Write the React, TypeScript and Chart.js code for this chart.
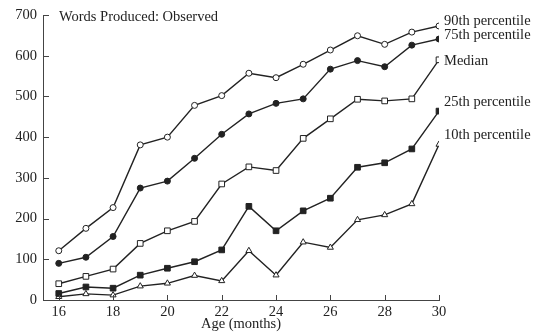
import React, { useEffect, useRef } from "react";
import { Chart, registerables } from "chart.js";

Chart.register(...registerables);

const ages = [16, 17, 18, 19, 20, 21, 22, 23, 24, 25, 26, 27, 28, 29, 30];
const p90 = [121, 176, 227, 381, 400, 478, 502, 557, 546, 579, 614, 649, 628, 658, 673];
const p75 = [90, 105, 156, 275, 292, 348, 407, 457, 483, 494, 567, 588, 573, 626, 641];
const median = [40, 58, 76, 139, 170, 193, 285, 327, 318, 397, 445, 493, 489, 494, 590];
const p25 = [16, 32, 29, 61, 78, 94, 123, 230, 170, 219, 250, 326, 337, 371, 464];
const p10 = [8, 15, 12, 34, 41, 60, 47, 121, 61, 142, 129, 197, 209, 236, 382];
const seriesNames = ["90th percentile", "75th percentile", "Median", "25th percentile", "10th percentile"];
const xTicks = [16, 18, 20, 22, 24, 26, 28, 30];
const chartTitle = "Words Produced: Observed";
const xTitle = "Age (months)";

const FONT = "'Liberation Serif', 'DejaVu Serif', serif";
const INK = "#222";
const AXIS = "#444";

export default function App() {
  const ref = useRef<HTMLCanvasElement | null>(null);
  useEffect(() => {
    document.body.style.margin = "0";
    const canvas = ref.current!;
    const mk = (vals: number[], style: any, filled: boolean, radius: number) => ({
      data: vals.map((v, i) => ({ x: ages[i], y: v })),
      borderColor: INK,
      borderWidth: 1.4,
      pointStyle: style,
      pointRadius: radius,
      pointBorderWidth: 1,
      pointBorderColor: INK,
      pointBackgroundColor: filled ? INK : "#fff",
      showLine: true,
      tension: 0,
    });
    const labelOffsets = [-5, -4, 1, -9, -9];
    const overlay = {
      id: "overlay",
      afterDraw(chart: any) {
        const { ctx, scales } = chart;
        const xs = scales.x, ys = scales.y;
        ctx.save();
        ctx.strokeStyle = AXIS;
        ctx.lineWidth = 1;
        xTicks.forEach((v) => {
          const px = Math.round(xs.getPixelForValue(v)) + 0.5;
          ctx.beginPath();
          ctx.moveTo(px, ys.bottom);
          ctx.lineTo(px, ys.bottom - 5);
          ctx.stroke();
        });
        for (let v = 100; v <= 700; v += 100) {
          const py = Math.round(ys.getPixelForValue(v)) + 0.5;
          ctx.beginPath();
          ctx.moveTo(xs.left, py);
          ctx.lineTo(xs.left + 6, py);
          ctx.stroke();
        }
        ctx.fillStyle = INK;
        ctx.font = `14.5px ${FONT}`;
        ctx.textBaseline = "middle";
        ctx.textAlign = "left";
        ctx.fillText(chartTitle, xs.left + 16, ys.top + 2);
        const lasts = [p90, p75, median, p25, p10].map((a) => a[a.length - 1]);
        seriesNames.forEach((n, i) => {
          const py = ys.getPixelForValue(lasts[i]) + labelOffsets[i];
          ctx.fillText(n, xs.right + 5, py);
        });
        ctx.restore();
      },
    };
    const chart = new Chart(canvas, {
      type: "scatter",
      data: {
        datasets: [
          mk(p90, "circle", false, 3),
          mk(p75, "circle", true, 3),
          mk(median, "rect", false, 4),
          mk(p25, "rect", true, 4),
          mk(p10, "triangle", false, 3.5),
        ],
      },
      options: {
        animation: false,
        responsive: false,
        maintainAspectRatio: false,
        layout: { padding: { left: 0, top: 15, right: 96, bottom: 0 } },
        plugins: { legend: { display: false }, tooltip: { enabled: false } },
        scales: {
          x: {
            type: "linear",
            min: 15.42,
            max: 30,
            afterBuildTicks: (s: any) => {
              s.ticks = xTicks.map((v) => ({ value: v }));
            },
            afterFit: (s: any) => {
              s.height = 35;
            },
            grid: { display: false, drawTicks: false },
            border: { display: true, color: AXIS, width: 1 },
            ticks: { padding: 3, color: INK, font: { family: FONT, size: 14.5 } },
            title: {
              display: true,
              text: xTitle,
              color: INK,
              font: { family: FONT, size: 14.5 },
              padding: { top: 0, bottom: 2 },
            },
          },
          y: {
            type: "linear",
            min: 0,
            max: 700,
            ticks: { stepSize: 100, padding: 6, color: INK, font: { family: FONT, size: 14.5 } },
            afterFit: (s: any) => {
              s.width = 43;
            },
            grid: { display: false, drawTicks: false },
            border: { display: true, color: AXIS, width: 1 },
          },
        },
      },
      plugins: [overlay],
    });
    return () => chart.destroy();
  }, []);
  return (
    <div style={{ width: 535, height: 335, background: "#fff" }}>
      <canvas ref={ref} width={535} height={335} style={{ display: "block" }} />
    </div>
  );
}
